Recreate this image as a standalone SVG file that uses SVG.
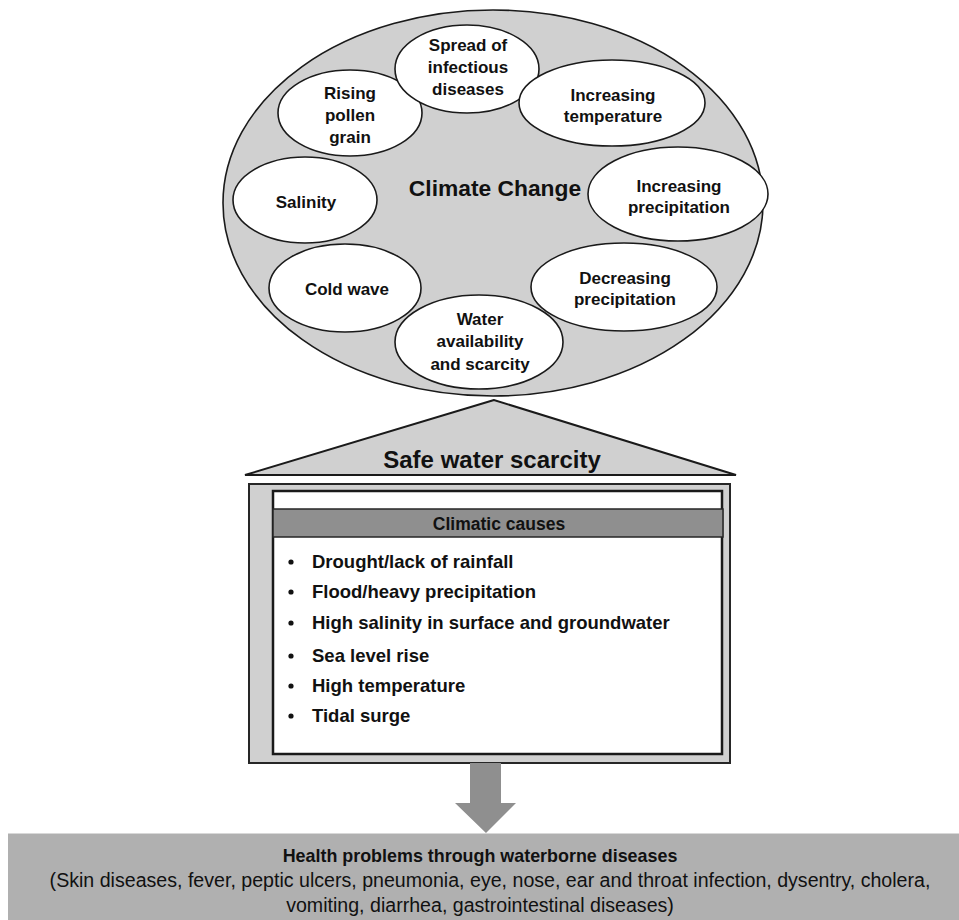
<svg xmlns="http://www.w3.org/2000/svg" width="959" height="920" viewBox="0 0 959 920">
<style>
.bg{fill:#ffffff}
.big{fill:#d0d0d0;stroke:#1a1a1a;stroke-width:1.6}
.sm{fill:#ffffff;stroke:#1a1a1a;stroke-width:1.6}
.lbl{font-family:"Liberation Sans",Arial,sans-serif;font-weight:bold;font-size:17px;fill:#111;text-anchor:middle}
.title{font-family:"Liberation Sans",Arial,sans-serif;font-weight:bold;font-size:22.8px;fill:#111;text-anchor:middle}
.tri{fill:#d0d0d0;stroke:#1a1a1a;stroke-width:2;stroke-linejoin:miter}
.outer{fill:#d0d0d0;stroke:#262626;stroke-width:2}
.inner{fill:#ffffff;stroke:#1a1a1a;stroke-width:2.5}
.head{fill:#8f8f8f;stroke:#262626;stroke-width:1.5}
.item{font-family:"Liberation Sans",Arial,sans-serif;font-weight:bold;font-size:18.5px;fill:#111}
.arrow{fill:#8f8f8f}
.bottom{fill:#b0b0b0}
.bt{font-family:"Liberation Sans",Arial,sans-serif;font-size:19.6px;fill:#111;text-anchor:middle}
</style>
<rect class="bg" x="0" y="0" width="959" height="920"/>

<g id="climate-change">
  <ellipse class="big" cx="493" cy="203" rx="270" ry="193"/>
  <text class="title" x="495" y="196">Climate Change</text>
</g>
<g id="rising-pollen">
  <ellipse class="sm" cx="350" cy="113" rx="72" ry="43"/>
  <text class="lbl" x="350" y="99">Rising</text>
  <text class="lbl" x="350" y="121">pollen</text>
  <text class="lbl" x="350" y="143">grain</text>
</g>
<g id="spread-infectious">
  <ellipse class="sm" cx="467" cy="69" rx="72" ry="44"/>
  <text class="lbl" x="468" y="51">Spread of</text>
  <text class="lbl" x="468" y="73">infectious</text>
  <text class="lbl" x="468" y="95">diseases</text>
</g>
<g id="increasing-temperature">
  <ellipse class="sm" cx="612" cy="103" rx="93" ry="43"/>
  <text class="lbl" x="613" y="101">Increasing</text>
  <text class="lbl" x="613" y="122">temperature</text>
</g>
<g id="salinity">
  <ellipse class="sm" cx="305" cy="200" rx="72" ry="43"/>
  <text class="lbl" x="306" y="208">Salinity</text>
</g>
<g id="increasing-precipitation">
  <ellipse class="sm" cx="678" cy="194" rx="90" ry="47"/>
  <text class="lbl" x="679" y="192">Increasing</text>
  <text class="lbl" x="679" y="213">precipitation</text>
</g>
<g id="cold-wave">
  <ellipse class="sm" cx="345" cy="288" rx="76" ry="44"/>
  <text class="lbl" x="347" y="295">Cold wave</text>
</g>
<g id="decreasing-precipitation">
  <ellipse class="sm" cx="624" cy="287" rx="93" ry="44"/>
  <text class="lbl" x="625" y="284">Decreasing</text>
  <text class="lbl" x="625" y="305">precipitation</text>
</g>
<g id="water-availability">
  <ellipse class="sm" cx="479" cy="342" rx="84" ry="47"/>
  <text class="lbl" x="480" y="325">Water</text>
  <text class="lbl" x="480" y="347">availability</text>
  <text class="lbl" x="480" y="370">and scarcity</text>
</g>

<g id="safe-water-scarcity">
  <polygon class="tri" points="494,400 245,475 736,475"/>
  <text class="title" style="font-size:24px" x="492" y="468">Safe water scarcity</text>
</g>

<g id="climatic-causes">
  <rect class="outer" x="249" y="484" width="481" height="279"/>
  <rect class="inner" x="273" y="491" width="449" height="263"/>
  <rect class="head" x="273" y="509" width="450" height="28"/>
  <text class="lbl" style="font-size:17.5px" x="499" y="530">Climatic causes</text>
  <g>
    <circle cx="291" cy="562" r="2.6" fill="#111"/>
    <text class="item" x="312" y="568">Drought/lack of rainfall</text>
    <circle cx="291" cy="592" r="2.6" fill="#111"/>
    <text class="item" x="312" y="598">Flood/heavy precipitation</text>
    <circle cx="291" cy="623" r="2.6" fill="#111"/>
    <text class="item" x="312" y="629">High salinity in surface and groundwater</text>
    <circle cx="291" cy="656" r="2.6" fill="#111"/>
    <text class="item" x="312" y="662">Sea level rise</text>
    <circle cx="291" cy="686" r="2.6" fill="#111"/>
    <text class="item" x="312" y="692">High temperature</text>
    <circle cx="291" cy="716" r="2.6" fill="#111"/>
    <text class="item" x="312" y="722">Tidal surge</text>
  </g>
</g>

<g id="connectors">
  <polygon class="arrow" points="470,763 501,763 501,803 516,803 486,833 455,803 470,803"/>
</g>

<g id="health-problems">
  <rect class="bottom" x="8" y="833" width="951" height="87"/>
  <line x1="8" y1="833.5" x2="959" y2="833.5" stroke="#d8d8d8" stroke-width="1"/>
  <text class="bt" style="font-weight:bold;font-size:17.9px" x="480" y="862">Health problems through waterborne diseases</text>
  <text class="bt" x="490" y="887">(Skin diseases, fever, peptic ulcers, pneumonia, eye, nose, ear and throat infection, dysentry, cholera,</text>
  <text class="bt" x="480" y="912">vomiting, diarrhea, gastrointestinal diseases)</text>
</g>
</svg>
